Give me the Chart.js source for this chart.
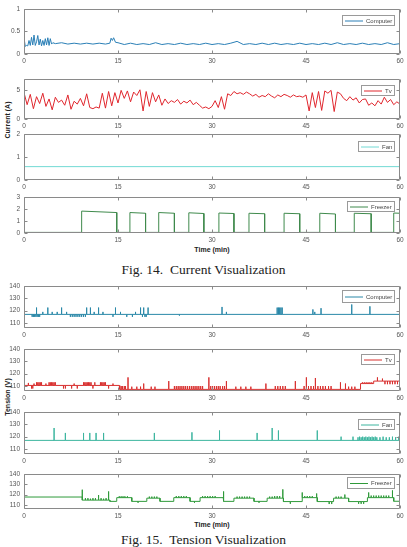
<!DOCTYPE html>
<html lang="en">
<head>
<meta charset="UTF-8">
<title>Current and Tension Visualization</title>
<script src="https://cdn.jsdelivr.net/npm/chart.js"></script>
<style>
  body{margin:0; background:#fff;}
  #page{position:relative; width:407px; height:547px; overflow:hidden; font-family:"Liberation Sans", Arial, sans-serif;}
  #page canvas{position:absolute; left:0;}
  .ytitle{position:absolute; width:80px; height:10px; line-height:10px; text-align:center; font-size:7px; font-weight:bold; color:#222; transform:rotate(-90deg);}
  .xtitle{position:absolute; left:172px; width:80px; text-align:center; font-size:7px; font-weight:bold; color:#222; line-height:10px;}
  .caption{position:absolute; left:0; width:407px; text-align:center; font-family:"Liberation Serif", "Times New Roman", serif; font-size:13.5px; color:#222; line-height:16px; white-space:pre;}
</style>
</head>
<body>
<div id="page">
  <div class="ytitle" style="left:-32px; top:115px;">Current (A)</div>
  <div class="xtitle" style="top:245px;">Time (min)</div>
  <div class="caption" style="top:262px;">Fig. 14.  Current Visualization</div>
  <div class="ytitle" style="left:-32px; top:392px;">Tension (V)</div>
  <div class="xtitle" style="top:520px;">Time (min)</div>
  <div class="caption" style="top:532px;">Fig. 15.  Tension Visualization</div>
</div>
<script>
// x axis shared by all panels (minutes)
const timeTicks = [0, 15, 30, 45, 60];

// ---------- Fig. 14 : current (A) ----------
const compCurT = [0,0.2,0.4,0.6,0.8,1.0,1.2,1.4,1.6,1.8,2.0,2.2,2.4,2.6,2.8,3.0,3.2,3.4,3.6,3.8,4.0,4.2,4.4,4.6,
  5,6,7,8,9,10,11,12,13,13.7,13.9,14.1,14.3,14.6,15,
  16,17,18,19,20, 21,22,23,24,25, 26,27,28,29,30, 31,32,33,34,35, 36,37,38,39,40,
  41,42,43,44,45, 46,47,48,49,50, 51,52,53,54,55, 56,57,58,59,60];
const compCurA = [0.36,0.17,0.19,0.18,0.30,0.19,0.37,0.20,0.42,0.19,0.27,0.41,0.20,0.33,0.18,0.30,0.19,0.34,0.20,0.36,0.19,0.34,0.22,0.25,
  0.23,0.25,0.22,0.24,0.22,0.24,0.22,0.24,0.22,0.24,0.35,0.30,0.36,0.26,0.25,
  0.21,0.24,0.21,0.23,0.21, 0.25,0.21,0.23,0.21,0.24, 0.21,0.23,0.21,0.24,0.21, 0.23,0.21,0.24,0.28,0.21, 0.23,0.21,0.24,0.21,0.24,
  0.21,0.23,0.21,0.24,0.21, 0.23,0.21,0.24,0.21,0.25, 0.21,0.23,0.21,0.24,0.21, 0.23,0.21,0.25,0.21,0.23];

// Tv current, one reading every half minute from 0 to 60
const tvCurStep = 0.5;
const tvCurA = [
  4.6,2.5,4.3,1.8,3.9,2.7,4.5,2.2,3.5,1.6,
  3.8,2.9,3.3,2.4,4.2,1.7,3.1,2.6,3.6,2.3,
  4.4,2.0,1.8,2.1,1.9,4.5,1.9,4.8,2.3,4.6,
  2.8,5.0,3.6,4.9,3.0,4.7,4.1,5.1,1.4,4.8,
  2.2,4.6,3.0,4.2,2.4,3.5,2.7,3.2,2.9,3.4,
  2.6,3.1,2.8,3.3,2.5,2.9,2.4,1.9,2.1,1.8,
  2.2,3.2,2.0,3.9,1.7,4.4,4.1,4.8,4.4,4.6,
  4.3,4.7,4.4,4.0,4.3,3.8,4.1,3.9,4.4,4.0,
  3.7,4.2,3.9,4.3,4.1,3.8,4.2,3.9,4.0,3.8,
  4.2,1.4,4.6,2.0,4.8,1.5,4.9,4.5,5.0,1.3,
  4.7,4.4,3.6,3.2,3.9,3.3,3.7,2.8,3.4,3.5,
  2.4,2.8,2.3,3.2,2.6,3.8,2.9,3.4,2.5,3.0,
  2.6];

const fanCurT = [0, 60];
const fanCurA = [0.58, 0.58];

// freezer compressor cycles
const freezerOnT      = [9.2, 16.9, 21.5, 26.3, 31.1, 35.9, 41.5, 47.2, 52.7, 59.0];
const freezerOffT     = [14.8, 19.4, 24.0, 28.7, 33.5, 38.4, 44.0, 49.7, 55.4, 60.0];
const freezerOnStartA = [1.82, 1.70, 1.70, 1.68, 1.66, 1.64, 1.64, 1.64, 1.64, 1.66];
const freezerOnEndA   = [1.70, 1.64, 1.64, 1.62, 1.62, 1.60, 1.60, 1.58, 1.60, 1.64];
const freezerIdleA = 0.05;

// ---------- Fig. 15 : tension (V) ----------
const compVLevelT = [0];
const compVLevelV = [117];
const compVSpikeT = [1.3,1.5,1.7,1.9,2.0,2.1,2.3,2.5,
  3.0,3.8,4.5,5.3,6.0,6.8,
  7.4,7.7,8.0,8.3,8.6,8.9,9.2,9.5,9.8,
  10.0,10.6,11.2,11.9,12.6,
  14.2,14.6,15.4,16.4,17.3,17.8,
  18.6,18.9,19.1,19.3,19.5,19.8,
  24.8,31.6,32.3,
  40.4,40.6,40.8,41.0,41.2,
  46.1,46.4,47.4,52.3,55.2];
const compVSpikeV = [115,115,115,115,122.5,115,115,115,
  119,122.5,119,119,122.5,119,
  115,115,115,115,115,115,115,115,115,
  122.5,122.5,119,122.5,119,
  115,122.5,119,115,115,119,
  122.5,115,122.5,115,115,122.5,
  116,123,119,
  122.5,122.5,122.5,122.5,122.5,
  121,119,122,125,123.5];

const tvVLevelT = [0, 15.2, 53.7, 55.8];
const tvVLevelV = [110.5, 107.3, 112, 114];
const tvVSpikeT = [0.7,1.2,1.4,1.6,2.0,2.2,2.4,2.6,2.8,3.5,
  4.0,4.2,4.4,4.6,4.8,5.0,6.3,6.6,7.6,8.0,
  8.5,9.5,9.7,9.9,10.1,10.3,10.5,10.7,11.0,11.3,
  12.2,12.4,12.6,12.8,13.0,13.5,14.2,
  15.3,15.5,15.7,16.0,16.2,16.6,17.2,18.0,18.6,19.1,
  20.3,20.9,23.1,24.0,24.3,24.6,24.9,25.2,25.5,25.8,
  26.1,26.4,26.7,27.0,27.3,27.6,27.9,28.2,28.5,29.5,
  29.8,30.1,30.4,30.7,31.0,31.3,31.7,32.0,32.3,33.8,
  34.6,35.4,36.2,38.6,40.1,40.5,40.9,41.3,41.7,43.3,
  44.7,45.0,45.1,45.4,45.8,46.2,46.5,46.9,47.3,47.7,
  48.1,48.6,49.0,50.5,51.3,51.8,52.3,52.8,53.1,
  54.0,54.3,54.6,54.9,55.2,55.5,
  56.4,57.2,57.6,58.0,58.4,58.8,59.2,59.6];
const tvVSpikeV = [112.5,108,108,112,113,113,113,113,113,112,
  113,113,113,113,113,113,108,108,108,112,
  108,113,113,113,113,113,113,113,108,113,
  113,113,113,113,113,108,112,
  110,110,110,110,110,117,109.5,109.5,109.5,112,
  109.5,109.5,114,110,110,110,110,110,110,110,
  110,110,110,110,110,110,110,110,110,117,
  110,110,110,110,110,110,110,110,114,109.5,
  109.5,109.5,109.5,112,110,110,110,110,110,114,
  110,110,117,110,110,110,116.5,110,110,110,
  110,110,110,113,112,109.5,109.5,109.5,106.5,
  113,113,113,113,113,113,
  117,116,111.5,111.5,111.5,111.5,111.5,111.5];

const fanVLevelT = [0];
const fanVLevelV = [117];
const fanVSpikeT = [4.8,6.6,9.5,10.5,11.5,12.7,20.8,26.8,31.2,37.2,
  39.6,40.6,46.8,50.6,52.5,
  53.3,53.55,53.8,54.05,54.3,54.55,54.8,55.05,55.3,55.55,55.8,56.05,56.3,
  56.8,57.3,57.8,58.3,58.8,59.3,59.8];
const fanVSpikeV = [127,123,123,123,123,123,123,123.5,125,123,
  127,125,125,120,120,
  119.5,120,119.5,120,119.5,120,119.5,120,119.5,120,119.5,120,119.5,
  119.5,120,119.5,119.5,120,119.5,120];

const freezerVLevelT = [0, 9.3, 13.7, 14.8, 17.2, 19.6, 21.7, 23.9, 26.5, 28.1, 31.9,
  33.5, 36.7, 38.8, 41.4, 44.4, 46.8, 49.4, 51.8, 54.8, 59.0];
const freezerVLevelV = [117.6, 114.6, 113.4, 117, 113.4, 116.5, 113.4, 117, 113.4, 117, 113.4,
  116.5, 113.4, 116.5, 113.2, 117, 113.2, 116.5, 113.2, 117, 113.5];
const freezerVSpikeT = [9.3,9.8,10.2,10.6,11.0,11.4,11.9,12.3,12.7,13.1,13.5,
  15.2,15.5,15.8,16.1,16.5,18.2,20.0,20.4,20.8,21.2,
  24.3,24.7,25.1,25.5,25.9,27.2,28.5,28.9,29.3,29.7,30.1,30.5,31.8,
  34.0,34.4,34.8,35.2,35.6,36.0,37.5,39.2,39.6,40.0,40.4,40.8,41.3,
  42.5,44.4,44.8,45.2,45.6,46.0,46.7,48.7,49.1,49.8,50.2,50.6,51.2,
  53.4,53.8,54.2,55.0,55.4,55.8,56.2,56.6,57.0,57.4,57.8,58.2,58.8];
const freezerVSpikeV = [124.7,116.5,116.5,116,116.5,116.5,119.5,116.5,116,116.5,123,
  118.3,118.3,118.3,118.3,118.3,112,118,118,118,118,
  118.5,118.5,118.5,118.5,118.5,112,118.5,118.5,118.5,118.5,118.5,118.5,123,
  118,118,118,118,118,118,112,118,118,118.5,118.5,118.5,125,
  111,122,118.5,118.5,118.5,118.5,121,110.8,110.8,118,118,118,120,
  111,111,111,122,119,119,119,119,119,119,119,119,124];

// ---------- helpers that turn the arrays into {x,y} points ----------
function zip(t, v) {
  return t.map((x, i) => ({ x: x, y: v[i] }));
}
function sampled(step, v) {
  return v.map((y, i) => ({ x: i * step, y: y }));
}
function freezerSteps() {
  const pts = [{ x: 0, y: freezerIdleA }];
  freezerOnT.forEach((on, i) => {
    pts.push({ x: on, y: freezerIdleA }, { x: on, y: freezerOnStartA[i] });
    pts.push({ x: freezerOffT[i], y: freezerOnEndA[i] }, { x: freezerOffT[i], y: freezerIdleA });
  });
  return pts;
}
function levelsWithSpikes(levelT, levelV, spikeT, spikeV) {
  const pts = [];
  levelT.forEach((a, i) => {
    const b = i + 1 < levelT.length ? levelT[i + 1] : 60;
    const v = levelV[i];
    pts.push({ x: a, y: v });
    spikeT.forEach((t, j) => {
      if (t >= a && t < b) pts.push({ x: t, y: v }, { x: t, y: spikeV[j] }, { x: t, y: v });
    });
    pts.push({ x: b, y: v });
  });
  return pts;
}

// ---------- drawing ----------
const FONT = '"Liberation Sans", Arial, sans-serif';
const PAD_TOP = 6, X_AXIS_H = 13, Y_AXIS_W = 24, TICK = 3;

// MATLAB-like box, inward ticks and legend
const matlabAxes = {
  id: 'matlabAxes',
  afterDraw(chart, args, opts) {
    const { ctx, chartArea: a } = chart;
    const xs = chart.scales.x, ys = chart.scales.y;
    const L = Math.round(a.left) + 0.5, R = Math.round(a.right) - 0.5;
    const T = Math.round(a.top) + 0.5, B = Math.round(a.bottom) - 0.5;
    ctx.save();
    ctx.strokeStyle = '#8a8a8a';
    ctx.lineWidth = 1;
    ctx.beginPath();
    ctx.rect(L, T, R - L, B - T);
    xs.ticks.forEach(t => {
      const px = Math.round(xs.getPixelForValue(t.value)) + 0.5;
      ctx.moveTo(px, B); ctx.lineTo(px, B - TICK);
      ctx.moveTo(px, T); ctx.lineTo(px, T + TICK);
    });
    ys.ticks.forEach(t => {
      const py = Math.round(ys.getPixelForValue(t.value)) + 0.5;
      ctx.moveTo(L, py); ctx.lineTo(L + TICK, py);
      ctx.moveTo(R, py); ctx.lineTo(R - TICK, py);
    });
    ctx.stroke();

    // legend box in the upper right corner
    const ds = chart.data.datasets[0];
    ctx.font = '6px ' + FONT;
    const tw = ctx.measureText(ds.label).width;
    const w = Math.round(27 + tw), h = opts.h || 11;
    const lx = Math.round(a.right) - 5 - w, ly = Math.round(a.top) + (opts.dy || 5);
    ctx.fillStyle = '#fff';
    ctx.fillRect(lx, ly, w, h);
    ctx.strokeStyle = '#9a9a9a';
    ctx.strokeRect(lx + 0.5, ly + 0.5, w - 1, h - 1);
    ctx.strokeStyle = ds.borderColor;
    ctx.beginPath();
    ctx.moveTo(lx + 3, ly + h / 2 + 0.5);
    ctx.lineTo(lx + 21, ly + h / 2 + 0.5);
    ctx.stroke();
    ctx.fillStyle = '#444';
    ctx.textBaseline = 'middle';
    ctx.fillText(ds.label, lx + 24, ly + h / 2 + 0.5);
    ctx.restore();
  }
};

const panels = [
  { top: 7,   bottom: 54,  label: 'Computer', color: '#2a7fb6', data: zip(compCurT, compCurA), yMin: 0, yMax: 1, yTicks: [0, 0.5, 1], dy: 6 },
  { top: 77,  bottom: 119, label: 'Tv',       color: '#e0262d', data: sampled(tvCurStep, tvCurA), yMin: 0, yMax: 7, yTicks: [0, 5], dy: 6 },
  { top: 132, bottom: 180, label: 'Fan',      color: '#72dad4', data: zip(fanCurT, fanCurA), yMin: 0, yMax: 2, yTicks: [0, 1, 2], dy: 7 },
  { top: 195, bottom: 233, label: 'Freezer',  color: '#3f8a4c', data: freezerSteps(), yMin: 0, yMax: 3, yTicks: [0, 1, 2, 3], dy: 4 },
  { top: 284, bottom: 328, label: 'Computer', color: '#2a88a8', data: levelsWithSpikes(compVLevelT, compVLevelV, compVSpikeT, compVSpikeV), yMin: 106, yMax: 140, yTicks: [110, 120, 130, 140], dy: 4, h: 13 },
  { top: 347, bottom: 391, label: 'Tv',       color: '#d8302f', data: levelsWithSpikes(tvVLevelT, tvVLevelV, tvVSpikeT, tvVSpikeV), yMin: 106, yMax: 140, yTicks: [110, 120, 130, 140], dy: 5 },
  { top: 410, bottom: 454, label: 'Fan',      color: '#3cb59f', data: levelsWithSpikes(fanVLevelT, fanVLevelV, fanVSpikeT, fanVSpikeV), yMin: 106, yMax: 140, yTicks: [110, 120, 130, 140], dy: 7 },
  { top: 472, bottom: 509, label: 'Freezer',  color: '#2f9a3a', data: levelsWithSpikes(freezerVLevelT, freezerVLevelV, freezerVSpikeT, freezerVSpikeV), yMin: 106, yMax: 140, yTicks: [110, 120, 130, 140], dy: 3, h: 12 }
];

const page = document.getElementById('page');
const tickFont = { family: FONT, size: 6.5 };

panels.forEach(p => {
  const cv = document.createElement('canvas');
  cv.width = 407;
  cv.height = p.bottom - p.top + PAD_TOP + X_AXIS_H;
  cv.style.top = (p.top - PAD_TOP) + 'px';
  page.appendChild(cv);

  new Chart(cv, {
    type: 'line',
    data: {
      datasets: [{
        label: p.label,
        data: p.data,
        borderColor: p.color,
        borderWidth: 1,
        pointRadius: 0,
        tension: 0,
        fill: false
      }]
    },
    options: {
      responsive: false,
      animation: false,
      events: [],
      layout: { padding: { top: PAD_TOP, right: 7, left: 0, bottom: 0 } },
      plugins: {
        legend: { display: false },
        tooltip: { enabled: false },
        matlabAxes: { dy: p.dy, h: p.h }
      },
      scales: {
        x: {
          type: 'linear', min: 0, max: 60,
          afterBuildTicks: s => { s.ticks = timeTicks.map(v => ({ value: v })); },
          afterFit: s => { s.height = X_AXIS_H; },
          grid: { display: false, drawTicks: false },
          border: { display: false },
          ticks: { autoSkip: false, maxRotation: 0, padding: 3, color: '#555', font: tickFont, callback: v => String(v) }
        },
        y: {
          min: p.yMin, max: p.yMax,
          afterBuildTicks: s => { s.ticks = p.yTicks.map(v => ({ value: v })); },
          afterFit: s => { s.width = Y_AXIS_W; },
          grid: { display: false, drawTicks: false },
          border: { display: false },
          ticks: { padding: 4, color: '#555', font: tickFont, callback: v => String(v) }
        }
      }
    },
    plugins: [matlabAxes]
  });
});
</script>
</body>
</html>
